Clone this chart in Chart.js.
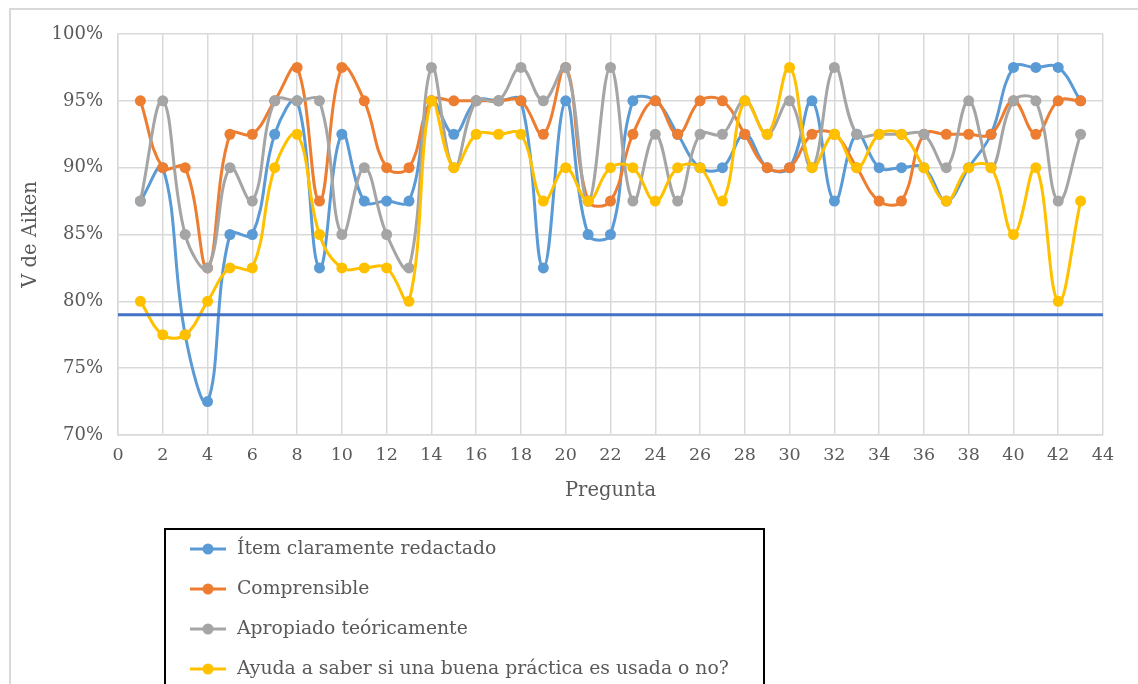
<!DOCTYPE html>
<html lang="es">
<head>
<meta charset="utf-8">
<title>V de Aiken por pregunta</title>
<script src="https://cdn.jsdelivr.net/npm/chart.js@4/dist/chart.umd.min.js"></script>
<style>
  html, body { margin: 0; padding: 0; background: #ffffff; }
  #wrap { width: 1138px; height: 684px; position: relative; overflow: hidden; }
</style>
</head>
<body>
<div id="wrap"><canvas id="chart" width="1138" height="684"></canvas></div>
<script>
// Número de pregunta (eje X)
const preguntas = [1, 2, 3, 4, 5, 6, 7, 8, 9, 10, 11, 12, 13, 14, 15, 16, 17, 18, 19, 20, 21, 22,
  23, 24, 25, 26, 27, 28, 29, 30, 31, 32, 33, 34, 35, 36, 37, 38, 39, 40, 41, 42, 43];

// V de Aiken (%) por criterio
const itemClaro = [87.5, 90, 77.5, 72.5, 85, 85, 92.5, 95, 82.5, 92.5, 87.5, 87.5, 87.5, 95, 92.5, 95, 95, 95, 82.5, 95, 85, 85,
  95, 95, 92.5, 90, 90, 92.5, 90, 90, 95, 87.5, 92.5, 90, 90, 90, 87.5, 90, 92.5, 97.5, 97.5, 97.5, 95];
const comprensible = [95, 90, 90, 82.5, 92.5, 92.5, 95, 97.5, 87.5, 97.5, 95, 90, 90, 95, 95, 95, 95, 95, 92.5, 97.5, 87.5, 87.5,
  92.5, 95, 92.5, 95, 95, 92.5, 90, 90, 92.5, 92.5, 90, 87.5, 87.5, 92.5, 92.5, 92.5, 92.5, 95, 92.5, 95, 95];
const apropiado = [87.5, 95, 85, 82.5, 90, 87.5, 95, 95, 95, 85, 90, 85, 82.5, 97.5, 90, 95, 95, 97.5, 95, 97.5, 87.5, 97.5,
  87.5, 92.5, 87.5, 92.5, 92.5, 95, 92.5, 95, 90, 97.5, 92.5, 92.5, 92.5, 92.5, 90, 95, 90, 95, 95, 87.5, 92.5];
const ayudaPractica = [80, 77.5, 77.5, 80, 82.5, 82.5, 90, 92.5, 85, 82.5, 82.5, 82.5, 80, 95, 90, 92.5, 92.5, 92.5, 87.5, 90, 87.5, 90,
  90, 87.5, 90, 90, 87.5, 95, 92.5, 97.5, 90, 92.5, 90, 92.5, 92.5, 90, 87.5, 90, 90, 85, 90, 80, 87.5];

// Valor de referencia (línea horizontal)
const umbral = 79;
const rangoX = [0, 44];

const nombres = [
  'Ítem claramente redactado',
  'Comprensible',
  'Apropiado teóricamente',
  'Ayuda a saber si una buena práctica es usada o no?'
];
const colores = ['#5B9BD5', '#ED7D31', '#A5A5A5', '#FFC000'];
const series = [itemClaro, comprensible, apropiado, ayudaPractica];

const FONT = '"DejaVu Serif", "Liberation Serif", serif';
const TEXT = '#595959';
const GRID = '#D9D9D9';

const toPoints = vals => preguntas.map((p, i) => ({ x: p, y: vals[i] }));

const datasets = series.map((vals, i) => ({
  label: nombres[i],
  data: toPoints(vals),
  borderColor: colores[i],
  backgroundColor: colores[i],
  borderWidth: 3,
  pointRadius: 5.5,
  pointBorderWidth: 0,
  pointHoverRadius: 5.5,
  tension: 0.4,
  fill: false,
  order: series.length - i
}));

datasets.push({
  label: 'Umbral',
  data: rangoX.map(x => ({ x: x, y: umbral })),
  borderColor: '#4472C4',
  borderWidth: 3,
  pointRadius: 0,
  tension: 0,
  fill: false,
  order: 0
});

// Marco exterior y leyenda en recuadro
const marcoYLeyenda = {
  id: 'marcoYLeyenda',
  afterDraw(chart) {
    const ctx = chart.ctx;
    ctx.save();
    ctx.strokeStyle = GRID;
    ctx.lineWidth = 2;
    ctx.strokeRect(10, 9, 1200, 800);

    ctx.strokeStyle = '#000000';
    ctx.lineWidth = 2;
    ctx.strokeRect(165, 529, 599, 200);

    ctx.font = '18.8px ' + FONT;
    ctx.textBaseline = 'middle';
    ctx.textAlign = 'left';
    nombres.forEach((n, i) => {
      const y = 549 + i * 40;
      ctx.strokeStyle = colores[i];
      ctx.lineWidth = 3;
      ctx.beginPath();
      ctx.moveTo(190, y);
      ctx.lineTo(226, y);
      ctx.stroke();
      ctx.fillStyle = colores[i];
      ctx.beginPath();
      ctx.arc(208, y, 5.5, 0, Math.PI * 2);
      ctx.fill();
      ctx.fillStyle = TEXT;
      ctx.fillText(n, 237, y);
    });
    ctx.restore();
  }
};

new Chart(document.getElementById('chart'), {
  type: 'line',
  data: { datasets: datasets },
  options: {
    responsive: false,
    animation: false,
    events: [],
    layout: { padding: { left: 10, top: 34, right: 35, bottom: 181 } },
    plugins: {
      legend: { display: false },
      tooltip: { enabled: false }
    },
    scales: {
      x: {
        type: 'linear',
        min: rangoX[0],
        max: rangoX[1],
        grid: { color: GRID, lineWidth: 1.5, drawTicks: false },
        border: { color: GRID, width: 1.5 },
        ticks: {
          stepSize: 2,
          padding: 10,
          color: TEXT,
          font: { family: FONT, size: 17.5 }
        },
        title: {
          display: true,
          text: 'Pregunta',
          color: TEXT,
          font: { family: FONT, size: 19.5 },
          padding: { top: 8, bottom: 0 }
        },
        afterFit(scale) { scale.height = 68; }
      },
      y: {
        min: 70,
        max: 100,
        grid: { color: GRID, lineWidth: 1.5, drawTicks: false },
        border: { color: GRID, width: 1.5 },
        ticks: {
          stepSize: 5,
          padding: 15,
          color: TEXT,
          font: { family: FONT, size: 18 },
          callback: v => v + '%'
        },
        title: {
          display: true,
          text: 'V de Aiken',
          color: TEXT,
          font: { family: FONT, size: 19.5 },
          padding: { top: 9, bottom: 0 }
        },
        afterFit(scale) { scale.width = 108; }
      }
    }
  },
  plugins: [marcoYLeyenda]
});
</script>
</body>
</html>
